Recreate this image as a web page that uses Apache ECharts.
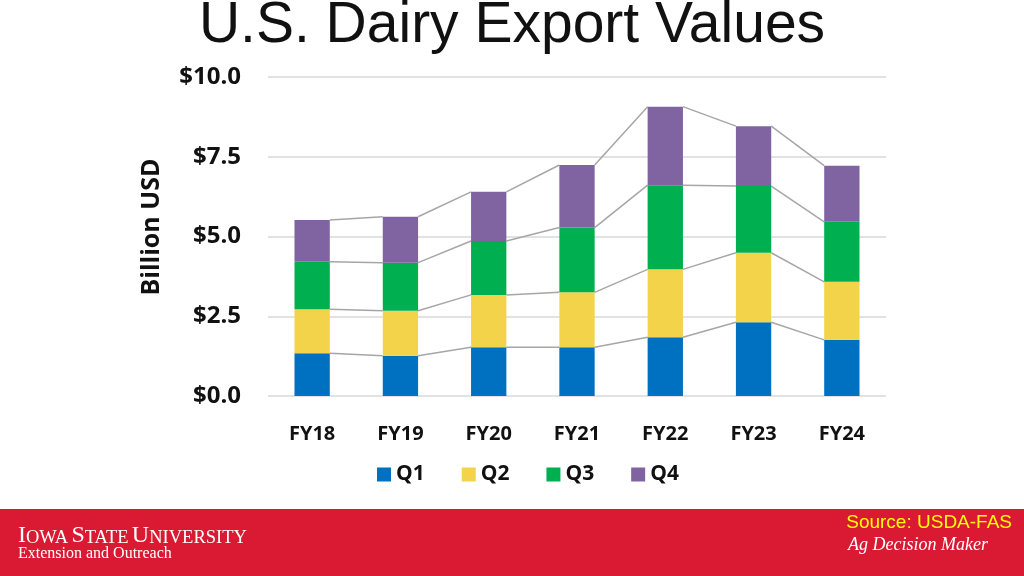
<!DOCTYPE html>
<html>
<head>
<meta charset="utf-8">
<script src="https://cdn.jsdelivr.net/npm/echarts@6/dist/echarts.min.js"></script>
<style>
html,body{margin:0;padding:0;background:#fff;}
#chart{width:1024px;height:576px;}
</style>
</head>
<body>
<div id="chart"></div>
<script>
const categories = ['FY18','FY19','FY20','FY21','FY22','FY23','FY24'];
const q1 = [1.34, 1.26, 1.53, 1.53, 1.84, 2.31, 1.76];
const q2 = [1.38, 1.41, 1.64, 1.72, 2.13, 2.18, 1.82];
const q3 = [1.49, 1.51, 1.69, 2.03, 2.64, 2.09, 1.88];
const q4 = [1.31, 1.44, 1.54, 1.96, 2.46, 1.88, 1.76];
const seriesNames = ['Q1','Q2','Q3','Q4'];
const yTicks = [0, 2.5, 5, 7.5, 10];

const colors = ['#0070C0','#F2D34A','#00B050','#8064A2'];
const quarters = [q1,q2,q3,q4];
// cumulative tops for series lines
const levels = [];
let run = categories.map(()=>0);
quarters.forEach(q => { run = run.map((v,i)=>v+q[i]); levels.push(run.slice()); });

const font = '"Open Sans", sans-serif';
const chart = echarts.init(document.getElementById('chart'));
const option = {
  animation:false,
  backgroundColor:'#fff',
  grid:{left:268, right:138, top:77, bottom:180, containLabel:false},
  legend:{
    data:seriesNames, left:372, top:459, itemWidth:14, itemHeight:14, itemGap:37,
    icon:'rect',
    textStyle:{fontFamily:font, fontWeight:'bold', fontSize:21, color:'#111', padding:[0,0,0,0]}
  },
  xAxis:{
    type:'category', data:categories,
    axisLine:{show:false}, axisTick:{show:false},
    axisLabel:{fontFamily:font, fontWeight:'bold', fontSize:20, color:'#111', margin:28}
  },
  yAxis:{
    type:'value', min:0, max:10, interval:2.5,
    axisLine:{show:false}, axisTick:{show:false},
    splitLine:{lineStyle:{color:'#D9D9D9', width:1.5}},
    axisLabel:{fontFamily:font, fontWeight:'bold', fontSize:24, color:'#111', margin:27,
      formatter:v=>'$'+v.toFixed(1)}
  },
  series: seriesNames.map((n,k)=>({
    name:n, type:'bar', stack:'total', data:quarters[k], barWidth:'40%',
    itemStyle:{color:colors[k]}
  })).concat([{
    type:'custom', name:'lines', silent:true, z:1,
    data: categories.slice(0,-1).map((c,i)=>[i, levels[3][i]]),
    encode:{x:0,y:1},
    renderItem:(params, api)=>{
      const i = api.value(0);
      const hw = api.size([1,0])[0]*0.2;
      return {type:'group', children: levels.map(cum=>{
        const p1 = api.coord([i, cum[i]]);
        const p2 = api.coord([i+1, cum[i+1]]);
        return {type:'line', shape:{x1:p1[0]+hw, y1:p1[1], x2:p2[0]-hw, y2:p2[1]},
          style:{stroke:'#A6A6A6', lineWidth:1.5}};
      })};
    }
  }]),
  graphic:[
    {type:'text', left:'center', top:-2, style:{text:'U.S. Dairy Export Values', font:'57px "Liberation Sans", Arial, sans-serif', fill:'#111'}},
    {type:'text', x:152, y:227, rotation:Math.PI/2, style:{text:'Billion USD', font:'bold 25px "Open Sans", sans-serif', fill:'#111', align:'center', verticalAlign:'middle'}},
    {type:'rect', left:0, top:509, shape:{width:1024, height:67}, style:{fill:'#DA1A32'}},
    {type:'text', left:18, top:524, style:{
      text:'{b|I}{s|OWA} {b|S}{s|TATE} {b|U}{s|NIVERSITY}',
      rich:{
        b:{fontFamily:'"Liberation Serif", serif', fontSize:24, fill:'#fff', verticalAlign:'bottom', lineHeight:24},
        s:{fontFamily:'"Liberation Serif", serif', fontSize:18.5, fill:'#fff', verticalAlign:'bottom', lineHeight:24}
      }, fill:'#fff'}},
    {type:'text', left:18, top:546, style:{text:'Extension and Outreach', font:'16px "Liberation Serif", serif', fill:'#fff'}},
    {type:'text', right:12, top:513, style:{text:'Source: USDA-FAS', font:'19px "Liberation Sans", Arial, sans-serif', fill:'#FFFF00'}},
    {type:'text', left:848, top:536, style:{text:'Ag Decision Maker', font:'italic 18px "Liberation Serif", serif', fill:'#fff'}}
  ]
};
chart.setOption(option);
</script>
</body>
</html>
